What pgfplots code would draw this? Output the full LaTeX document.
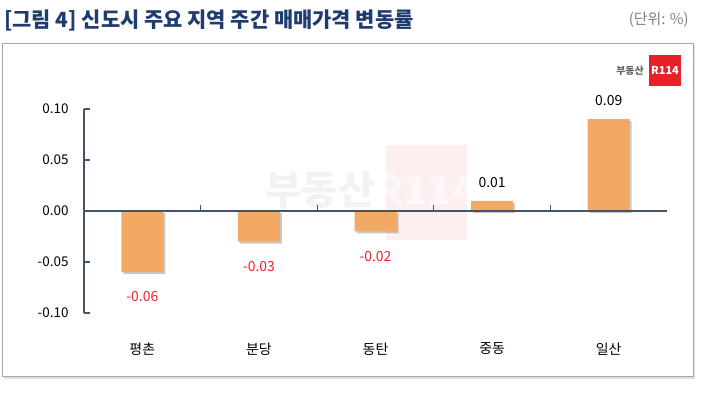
\documentclass[border=0pt]{standalone}
\usepackage{fontspec}
\setmainfont{Noto Sans CJK KR}
\usepackage{pgfplots}
\pgfplotsset{compat=1.18}
\usetikzlibrary{shadows}
\definecolor{barc}{HTML}{F2A964}
\definecolor{axc}{HTML}{44546A}
\definecolor{titc}{HTML}{1F3C6E}
\definecolor{negc}{HTML}{F0202F}
\definecolor{wm}{HTML}{E8202A}
\begin{document}
\begin{tikzpicture}[x=1bp,y=1bp]
\useasboundingbox (0,0) rectangle (710,398);
\fill[black!12] (4,19) rectangle (695,353);
\draw[fill=white, draw=black!35, line width=1bp] (2,22) rectangle (693,355);
\node[anchor=west, font=\bfseries\fontsize{21}{23}\selectfont, text=titc, inner sep=0pt] at (4,378) {[그림 4] 신도시 주요 지역 주간 매매가격 변동률};
\node[anchor=east, font=\fontsize{15}{17}\selectfont, text=black!50, inner sep=0pt] at (689,378) {(단위: \%)};
% logo
\node[anchor=east, font=\bfseries\fontsize{10}{12}\selectfont, text=black!60, inner sep=0pt] at (644,327) {부동산};
\fill[wm] (649,312) rectangle (681,343);
\node[font=\bfseries\fontsize{11}{12}\selectfont, text=white, inner sep=0pt] at (665,327.5) {R114};
% watermark
\node[font=\bfseries\fontsize{40}{44}\selectfont, text=black, opacity=0.05, inner sep=0pt] at (320,208) {부동산};
\fill[wm, opacity=0.07] (386,158) rectangle (467,253);
\node[font=\bfseries\fontsize{40}{44}\selectfont, text=white, opacity=0.5, inner sep=0pt] at (426,208) {R114};
\begin{axis}[
  at={(84bp,85bp)}, anchor=south west, scale only axis,
  width=583bp, height=204bp,
  xmin=0.5, xmax=5.5, ymin=-0.1, ymax=0.1,
  axis y line*=left, axis x line*=bottom,
  x axis line style={draw=none},
  y axis line style={-, axc, line width=1.2bp},
  ytick={-0.1,-0.05,0,0.05,0.1},
  ytick style={axc, line width=1.2bp},
  xtick style={draw=none},
  tick align=inside, major tick length=6bp,
  xtick={1,2,3,4,5},
  xticklabels={평촌,분당,동탄,중동,일산},
  xticklabel style={font=\fontsize{14}{16}\selectfont, yshift=-26bp},
  yticklabel style={font=\fontsize{13.5}{15}\selectfont, xshift=-12bp},
  /pgf/number format/fixed,
  /pgf/number format/fixed zerofill,
  /pgf/number format/precision=2,
  /pgf/number format/assume math mode=true,
  clip=false,
  every axis plot/.append style={ybar, bar width=42bp, draw=none, fill=barc,
    drop shadow={shadow xshift=2bp, shadow yshift=-2bp, opacity=0.35, fill=black!60}},
]
\addplot[nodes near coords, point meta=y,
  nodes near coords style={text=negc, font=\fontsize{14}{16}\selectfont, yshift=-16bp}]
  coordinates {(1,-0.06) (2,-0.03) (3,-0.02)};
\addplot[nodes near coords, point meta=y,
  nodes near coords style={text=black, font=\fontsize{14}{16}\selectfont, yshift=10bp}]
  coordinates {(4,0.01) (5,0.09)};
\draw[axc, line width=1.2bp] (axis cs:0.5,0) -- (axis cs:5.5,0);
\draw[axc, line width=1.2bp] (axis cs:1.5,0) -- (axis cs:1.5,0.006);
\draw[axc, line width=1.2bp] (axis cs:2.5,0) -- (axis cs:2.5,0.006);
\draw[axc, line width=1.2bp] (axis cs:3.5,0) -- (axis cs:3.5,0.006);
\draw[axc, line width=1.2bp] (axis cs:4.5,0) -- (axis cs:4.5,0.006);
\end{axis}
\end{tikzpicture}
\end{document}
